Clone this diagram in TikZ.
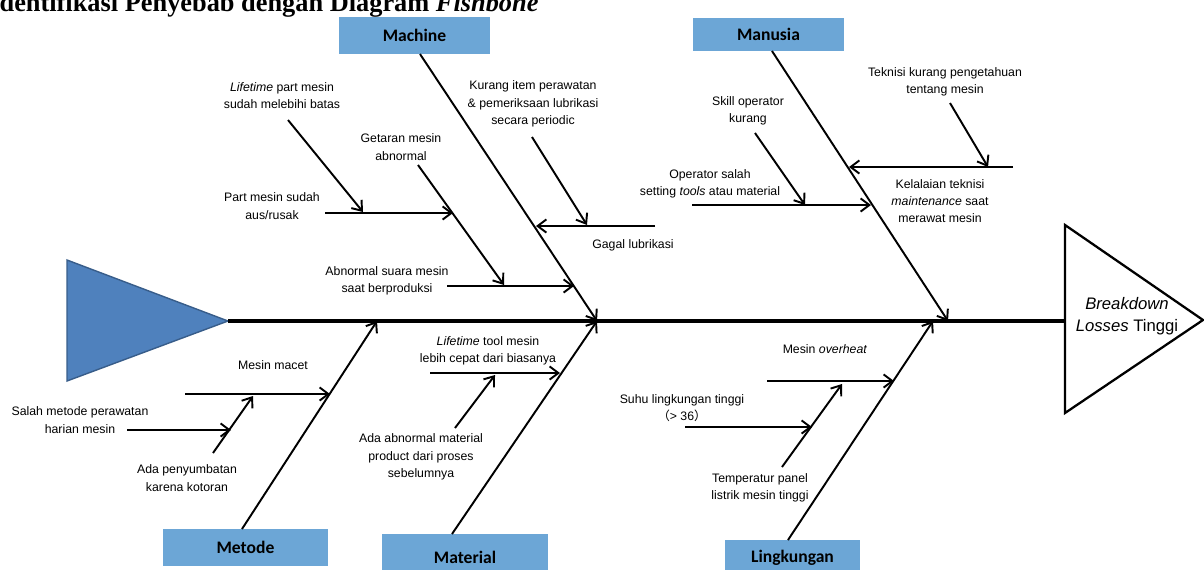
\documentclass[tikz,border=0pt]{standalone}
\usepackage{fontspec}
\setmainfont{Liberation Sans}
\newfontfamily\boxfont{Carlito}
\newfontfamily\titlefont{Liberation Serif}
\newfontfamily\cjk{Noto Sans CJK JP}
\usepackage{tikz}
\usetikzlibrary{arrows.meta}

\definecolor{tailblue}{RGB}{79,129,189}
\definecolor{tailedge}{RGB}{56,93,138}
\definecolor{catblue}{RGB}{108,166,214}

\begin{document}
\begin{tikzpicture}[x=0.02cm, y=-0.02cm,
    >={Straight Barb[length=5pt,width=7.5pt]},
    cat/.style={fill=catblue, inner sep=0pt, font=\boxfont\bfseries\fontsize{10}{12}\selectfont},
    cause/.style={align=center, inner sep=0pt, font=\fontsize{7}{9.9}\selectfont},
    bone/.style={line width=1.1pt, ->},
    spine/.style={line width=2.2pt}]
        \useasboundingbox (0,0) rectangle (1204,569);
        \clip (0,0) rectangle (1204,569);

        % Title (cut at the top)
        \node[anchor=base west, inner sep=0pt, font=\titlefont\bfseries\fontsize{15}{18}\selectfont] (title) at (-11,11) {Identifikasi Penyebab dengan Diagram \textit{Fishbone}};

        % Draw the tail and the head
        \draw[tailedge, fill=tailblue, line width=0.8pt] (67,260) -- (228,321) -- (67,381) -- cycle;
        \draw[line width=1.3pt, fill=white] (1065,225) -- (1203,320) -- (1065,413) -- cycle;
        \node[align=center, inner sep=0pt, font=\fontsize{9.5}{12.5}\selectfont] (effect) at (1127,316) {\textit{Breakdown}\\\textit{Losses} Tinggi};

        % Spine
        \coordinate (tailtip) at (228,321);
        \coordinate (headbase) at (1065,321);
        \draw[spine] (tailtip) -- (headbase);

        % Category boxes
        \node[cat, minimum width=3.02cm, minimum height=0.74cm] (machine) at (414.5,35.5) {Machine};
        \node[cat, minimum width=3.02cm, minimum height=0.66cm] (manusia) at (768.5,34.5) {Manusia};
        \node[cat, minimum width=3.30cm, minimum height=0.74cm] (metode) at (245.5,547.5) {Metode};
        \node[cat, minimum width=3.32cm, minimum height=0.92cm] (material) at (465,557) {Material};
        \node[cat, minimum width=2.70cm, minimum height=0.72cm] (lingkungan) at (792.5,558) {Lingkungan};

        % Main bones
        \coordinate (mc0) at (420,54);   \coordinate (mc1) at (597,321);
        \coordinate (mn0) at (772,51);   \coordinate (mn1) at (948,321);
        \coordinate (mt0) at (242,529);  \coordinate (mt1) at (377,321);
        \coordinate (ml0) at (452,534);  \coordinate (ml1) at (597,321);
        \coordinate (lk0) at (788,540);  \coordinate (lk1) at (933,321);
        \draw[bone] (mc0) -- (mc1);
        \draw[bone] (mn0) -- (mn1);
        \draw[bone] (mt0) -- (mt1);
        \draw[bone] (ml0) -- (ml1);
        \draw[bone] (lk0) -- (lk1);

        % Machine
        \node[cause] (lifepart) at (282,95.5) {\textit{Lifetime} part mesin\\sudah melebihi batas};
        \node[cause] (partaus) at (272,206) {Part mesin sudah\\aus/rusak};
        \node[cause] (getaran) at (401,147) {Getaran mesin\\abnormal};
        \node[cause] (suara) at (387,281) {Abnormal suara mesin\\saat berproduksi};
        \node[cause] (kurangitem) at (533,104) {Kurang item perawatan\\\& pemeriksaan lubrikasi\\secara periodic};
        \node[cause] (gagal) at (633,245) {Gagal lubrikasi};
        \coordinate (as0) at (447,286);  \coordinate (as1) at (574,286);
        \coordinate (gt0) at (418,165);  \coordinate (gt1) at (504,285);
        \coordinate (pm0) at (325,213);  \coordinate (pm1) at (453,213);
        \coordinate (lp0) at (288,120);  \coordinate (lp1) at (363,212);
        \coordinate (ki0) at (532,137);  \coordinate (ki1) at (587,225);
        \coordinate (gl0) at (655,226);  \coordinate (gl1) at (536,226);
        \draw[bone] (as0) -- (as1);
        \draw[bone] (gt0) -- (gt1);
        \draw[bone] (pm0) -- (pm1);
        \draw[bone] (lp0) -- (lp1);
        \draw[bone] (ki0) -- (ki1);
        \draw[bone] (gl0) -- (gl1);

        % Manusia
        \node[cause] (skill) at (748,111) {Skill operator\\kurang};
        \node[cause] (opsalah) at (710,184) {Operator salah\\setting \textit{tools} atau material};
        \node[cause] (teknisi) at (945,82) {Teknisi kurang pengetahuan\\tentang mesin};
        \node[cause] (kelalaian) at (940,201) {Kelalaian teknisi\\\textit{maintenance} saat\\merawat mesin};
        \coordinate (so0) at (755,133);  \coordinate (so1) at (805,205);
        \coordinate (os0) at (692,205);  \coordinate (os1) at (871,205);
        \coordinate (tk0) at (950,103);  \coordinate (tk1) at (988,167);
        \coordinate (kl0) at (1013,167); \coordinate (kl1) at (849,167);
        \draw[bone] (so0) -- (so1);
        \draw[bone] (os0) -- (os1);
        \draw[bone] (tk0) -- (tk1);
        \draw[bone] (kl0) -- (kl1);

        % Metode
        \node[cause] (macet) at (273,365) {Mesin macet};
        \node[cause] (salahmetode) at (80,420) {Salah metode perawatan\\harian mesin};
        \node[cause] (sumbat) at (187,478) {Ada penyumbatan\\karena kotoran};
        \coordinate (mm0) at (185,394);  \coordinate (mm1) at (330,394);
        \coordinate (sm0) at (127,430);  \coordinate (sm1) at (231,430);
        \coordinate (ap0) at (213,453);  \coordinate (ap1) at (253,396);
        \draw[bone] (mm0) -- (mm1);
        \draw[bone] (sm0) -- (sm1);
        \draw[bone] (ap0) -- (ap1);

        % Material
        \node[cause] (lifetool) at (488,351) {\textit{Lifetime} tool mesin\\lebih cepat dari biasanya};
        \node[cause] (abmaterial) at (421,457) {Ada abnormal material\\product dari proses\\sebelumnya};
        \coordinate (lt0) at (430,373);  \coordinate (lt1) at (560,373);
        \coordinate (aa0) at (455,428);  \coordinate (aa1) at (495,375);
        \draw[bone] (lt0) -- (lt1);
        \draw[bone] (aa0) -- (aa1);

        % Lingkungan
        \node[cause] (overheat) at (825,349) {Mesin \textit{overheat}};
        \node[cause] (suhu) at (682,408) {Suhu lingkungan tinggi\\{\cjk （}> 36{\cjk ）}};
        \node[cause] (panel) at (760,488) {Temperatur panel\\listrik mesin tinggi};
        \coordinate (mo0) at (767,381);  \coordinate (mo1) at (894,381);
        \coordinate (sh0) at (685,427);  \coordinate (sh1) at (812,427);
        \coordinate (tp0) at (782,467);  \coordinate (tp1) at (842,384);
        \draw[bone] (mo0) -- (mo1);
        \draw[bone] (sh0) -- (sh1);
        \draw[bone] (tp0) -- (tp1);
    \end{tikzpicture}
\end{document}
